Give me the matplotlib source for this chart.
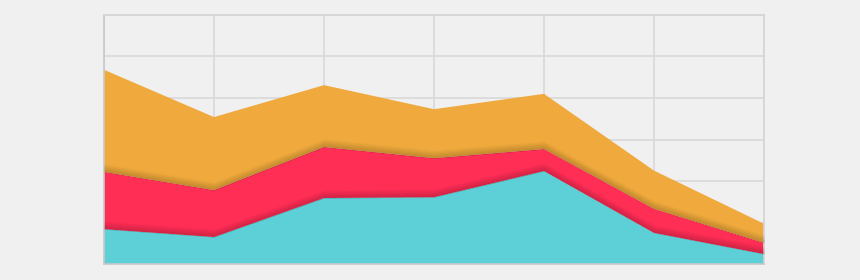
import matplotlib
matplotlib.use("Agg")
import matplotlib.pyplot as plt
import numpy as np

x_labels = ["1", "2", "3", "4", "5", "6", "7"]
cyan_vals = [8.4, 6.5, 15.9, 16.1, 22.4, 7.5, 2.4]
red_vals = [13.8, 11.3, 12.3, 9.4, 5.3, 5.8, 2.7]
orange_vals = [24.6, 17.6, 14.9, 11.8, 13.3, 9.2, 4.6]

colors = ["#5dcfd6", "#fe2e55", "#efa93d"]
bg = "#f0f0f0"

fig = plt.figure(figsize=(8.6, 2.8), dpi=100, facecolor=bg)
ax = fig.add_axes([104/860, 16/280, 660/860, 249/280])
ax.set_facecolor(bg)

x = np.arange(len(x_labels))
ax.stackplot(x, cyan_vals, red_vals, orange_vals, colors=colors,
             linewidth=0, zorder=2)

# soft shadow at bottom edge of red and orange layers
c = np.array(cyan_vals)
r = c + np.array(red_vals)
px = 60 / 249
for base in (c, r):
    for i in range(8):
        ax.fill_between(x, base, base + (i + 1) * px, color="black",
                        alpha=0.022, linewidth=0, zorder=3)

ax.set_xlim(0, len(x) - 1)
ax.set_ylim(0, 60)
ax.set_xticks(x)
ax.set_yticks(np.arange(0, 61, 10))
ax.grid(True, color="#d9d9d9", linewidth=1.2)
ax.set_axisbelow(True)
ax.tick_params(length=0, labelbottom=False, labelleft=False)
for s in ax.spines.values():
    s.set_color("#d4d4d4")
    s.set_linewidth(1.2)
ax.spines["bottom"].set_color("#c8c8c8")
ax.spines["left"].set_color("#c8c8c8")

fig.savefig("out.png", dpi=100, facecolor=bg)
